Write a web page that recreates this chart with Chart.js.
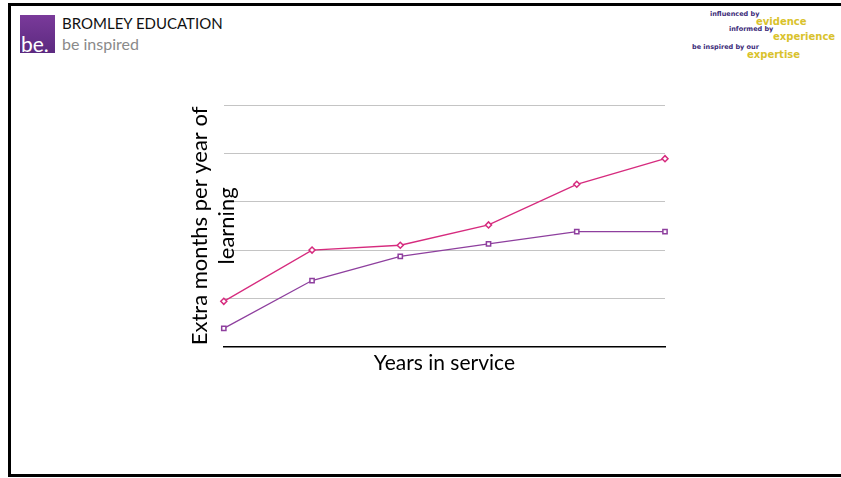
<!DOCTYPE html>
<html>
<head>
<meta charset="utf-8">
<script src="https://cdn.jsdelivr.net/npm/chart.js@4.4.1/dist/chart.umd.min.js"></script>
<style>
  html, body { margin: 0; padding: 0; background: #fff; }
  body { width: 841px; height: 478px; position: relative; overflow: hidden; font-family: Lato, "Noto Sans", sans-serif; }
  #frame { position: absolute; left: 8px; top: 3px; width: 860px; height: 468px; border: 3px solid #000; border-right: none; }
  #logo { position: absolute; left: 20px; top: 15px; width: 35px; height: 38px; background: linear-gradient(#7a3a9a, #5c2a80); }
  #logo span { position: absolute; left: 1px; bottom: -3px; color: #fff; font-size: 21px; }
  #brand { position: absolute; left: 62px; top: 14px; font-size: 15px; color: #111; }
  #tag { position: absolute; left: 62px; top: 34px; font-size: 16px; color: #8a8a8a; }
  .m { position: absolute; font-family: "DejaVu Sans", sans-serif; font-weight: bold; white-space: nowrap; line-height: 1; }
  .p { color: #3b2a78; font-size: 6.5px; }
  .y { color: #d9c22c; font-size: 10px; }
  #wrap { position: absolute; left: 0; top: 0; width: 841px; height: 478px; }
</style>
</head>
<body>
<div id="frame"></div>
<div id="logo"><span>be.</span></div>
<div id="brand">BROMLEY EDUCATION</div>
<div id="tag">be inspired</div>
<div class="m p" style="left:710px; top:11px;">influenced by</div>
<div class="m y" style="left:756px; top:17px;">evidence</div>
<div class="m p" style="left:729px; top:26px;">informed by</div>
<div class="m y" style="left:773px; top:32px;">experience</div>
<div class="m p" style="left:692px; top:44px;">be inspired by our</div>
<div class="m y" style="left:747px; top:50px;">expertise</div>
<div id="wrap"><canvas id="myChart" width="841" height="478"></canvas></div>
<script>
// categories along x (tick labels are not shown on the slide)
const years = ['1', '2', '3', '4', '5', '6'];
// extra months per year of learning (one gridline = 1 unit)
const pinkValues = [0.94, 2.0, 2.1, 2.52, 3.36, 3.89];
const purpleValues = [0.38, 1.37, 1.87, 2.13, 2.38, 2.38];
const yTitle = ['Extra months per year of', 'learning'];
const xTitle = 'Years in service';

const ctx = document.getElementById('myChart').getContext('2d');

var myChart = new Chart(ctx, {
    type: 'line',
    data: {
        labels: years,
        datasets: [{
            data: pinkValues,
            borderColor: '#d62b7e',
            borderWidth: 1.3,
            pointStyle: 'rectRot',
            pointRadius: 3,
            pointBorderWidth: 1.5,
            pointBackgroundColor: '#fff',
            pointBorderColor: '#d62b7e',
            fill: false
        },
        {
            data: purpleValues,
            borderColor: '#8e3f9e',
            borderWidth: 1.3,
            pointStyle: 'rect',
            pointRadius: 3,
            pointBorderWidth: 1.5,
            pointBackgroundColor: '#fff',
            pointBorderColor: '#8e3f9e',
            fill: false
        }]
    },
    options: {
        responsive: false,
        animation: false,
        clip: false,
        layout: {
            padding: { left: 187, right: 176, top: 105, bottom: 102 }
        },
        plugins: {
            legend: { display: false },
            tooltip: { enabled: false }
        },
        scales: {
            x: {
                offset: false,
                grid: { display: false, drawTicks: false },
                border: { display: true, color: '#000', width: 1.5 },
                ticks: { display: false },
                title: {
                    display: true,
                    text: xTitle,
                    color: '#000',
                    font: { family: 'Lato', size: 21 },
                    padding: { top: 4, bottom: 0 }
                }
            },
            y: {
                min: 0,
                max: 5,
                ticks: { display: false, stepSize: 1 },
                grid: { color: '#c4c4c4', lineWidth: 1, drawTicks: false },
                border: { display: false },
                title: {
                    display: true,
                    text: yTitle,
                    color: '#000',
                    font: { family: 'Lato', size: 22, lineHeight: 1.2 },
                    padding: { top: 0, bottom: -16 }
                }
            }
        }
    }
});
</script>
</body>
</html>
